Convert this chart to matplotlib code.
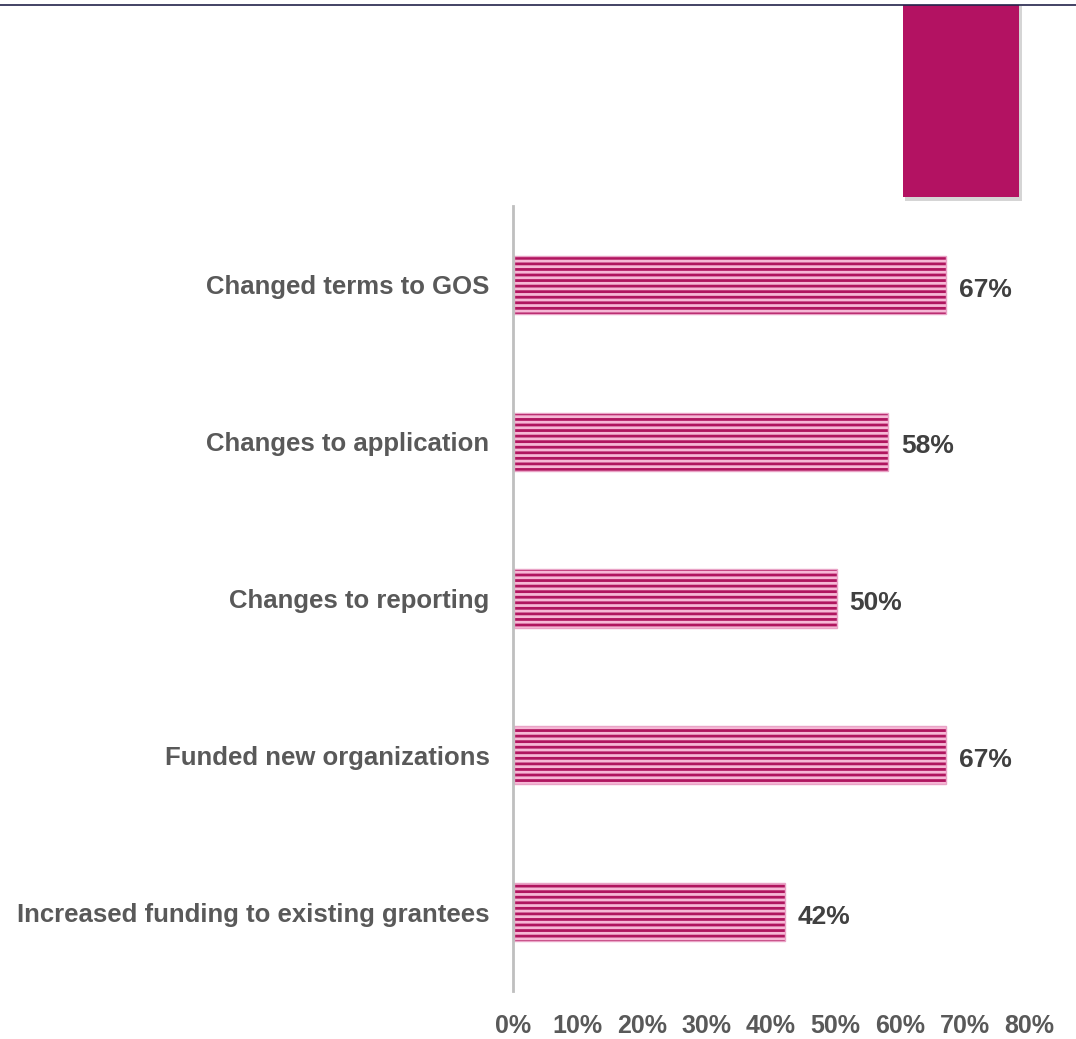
import matplotlib
matplotlib.use("Agg")
import matplotlib.pyplot as plt
from matplotlib.patches import Rectangle
from matplotlib.lines import Line2D
from matplotlib.ticker import FuncFormatter

# survey responses, top to bottom
categories = [
    "Changed terms to GOS",
    "Changes to application",
    "Changes to reporting",
    "Funded new organizations",
    "Increased funding to existing grantees",
]
shares = [67, 58, 50, 67, 42]
tick_values = [0, 10, 20, 30, 40, 50, 60, 70, 80]

plt.rcParams["font.family"] = ["Liberation Sans", "DejaVu Sans"]
plt.rcParams["font.weight"] = "bold"
plt.rcParams["hatch.linewidth"] = 2.0

W, H = 1076, 1039
fig = plt.figure(figsize=(W / 100, H / 100), dpi=100)
fig.patch.set_facecolor("white")

# header rule and accent block
fig.add_artist(Line2D([0, 1], [1 - 5 / H, 1 - 5 / H], transform=fig.transFigure,
                      color="#23234a", lw=1.2))
fig.add_artist(Rectangle((905 / W, 1 - 201 / H), 117 / W, 195 / H,
                         transform=fig.transFigure, facecolor="#c4c4c4",
                         edgecolor="none", alpha=0.7))
fig.add_artist(Rectangle((903 / W, 1 - 197 / H), 116 / W, 192 / H,
                         transform=fig.transFigure, facecolor="#B31262",
                         edgecolor="none"))

ax = fig.add_axes([513 / W, 1 - 990.5 / H, 516 / W, 784 / H])
ypos = list(range(len(categories)))
# striped fill: light pink face with dark magenta hatch lines
ax.barh(ypos, shares, height=0.37, color="#F6B8D6", edgecolor="#B0155F",
        linewidth=0, hatch="---", left=0.2)
ax.barh(ypos, shares, height=0.37, fill=False, edgecolor="#E9A3C6",
        linewidth=1.0, left=0.2)

for y, v in zip(ypos, shares):
    ax.text(v + 2.2, y + 0.03, f"{v}%", va="center", ha="left", fontsize=19,
            fontweight="bold", color="#404040")

ax.set_xlim(0, 80)
ax.set_ylim(len(categories) - 0.5, -0.5)
ax.set_yticks(ypos)
ax.set_yticklabels(categories, fontsize=18.5, fontweight="bold", color="#595959")
ax.set_xticks(tick_values)
ax.xaxis.set_major_formatter(FuncFormatter(lambda v, p: f"{int(v)}%"))
for lbl in ax.get_xticklabels():
    lbl.set_fontsize(18)
    lbl.set_fontweight("bold")
    lbl.set_color("#595959")
ax.tick_params(axis="y", length=0, pad=17)
ax.tick_params(axis="x", length=0, pad=17)

for s in ["top", "right", "bottom"]:
    ax.spines[s].set_visible(False)
ax.spines["left"].set_color("#BFBFBF")
ax.spines["left"].set_linewidth(2)

fig.savefig("out.png", dpi=100, facecolor="white")
